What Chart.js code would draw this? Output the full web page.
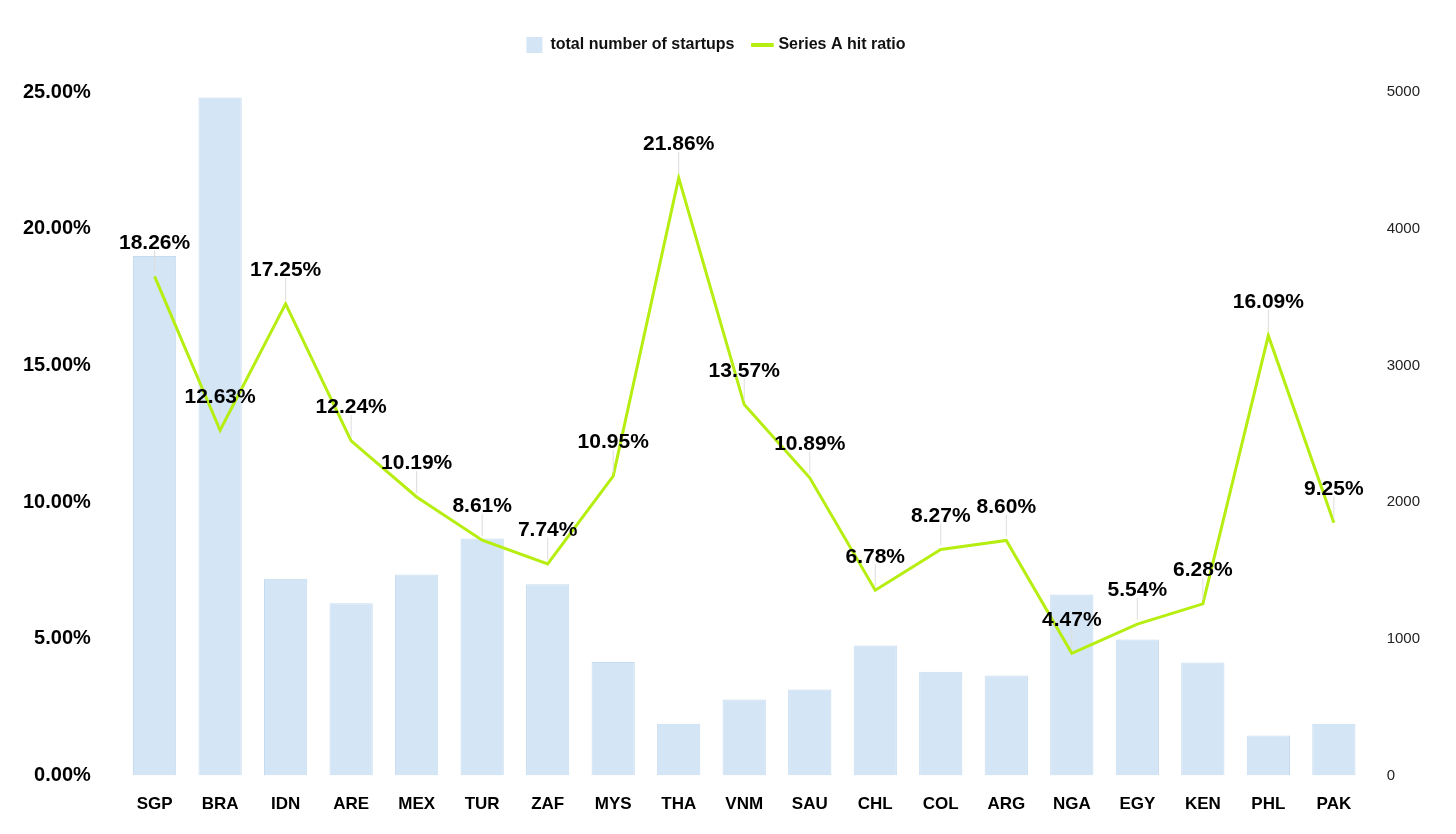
<!DOCTYPE html>
<html>
<head>
<meta charset="utf-8">
<script src="https://cdn.jsdelivr.net/npm/chart.js@4"></script>
<style>
  html, body { margin: 0; background: #fff; }
  #wrap { width: 1456px; height: 834px; }
</style>
</head>
<body>
<div id="wrap"><canvas id="c"></canvas></div>
<script>
const countries = ['SGP', 'BRA', 'IDN', 'ARE', 'MEX', 'TUR', 'ZAF', 'MYS', 'THA', 'VNM', 'SAU', 'CHL', 'COL', 'ARG', 'NGA', 'EGY', 'KEN', 'PHL', 'PAK'];
const startups = [3800, 4960, 1440, 1260, 1470, 1735, 1400, 830, 380, 556, 630, 952, 760, 732, 1325, 996, 828, 293, 380];
const hitRatio = [18.26, 12.63, 17.25, 12.24, 10.19, 8.61, 7.74, 10.95, 21.86, 13.57, 10.89, 6.78, 8.27, 8.60, 4.47, 5.54, 6.28, 16.09, 9.25];

// value labels above the line points, with a faint leader line
const pointLabels = {
    id: 'pointLabels',
    afterDatasetsDraw(chart) {
        let ctx = chart.ctx;
        let meta = chart.getDatasetMeta(1);
        ctx.save();
        meta.data.forEach(function(pt, i) {
            let top = pt.y - 26;
            ctx.strokeStyle = '#dddddd';
            ctx.lineWidth = 1;
            ctx.beginPath();
            ctx.moveTo(pt.x, pt.y - 4);
            ctx.lineTo(pt.x, top);
            ctx.stroke();
            ctx.font = 'bold 21px "Liberation Sans", Arial, sans-serif';
            ctx.fillStyle = '#000';
            ctx.textAlign = 'center';
            ctx.textBaseline = 'bottom';
            ctx.fillText(hitRatio[i].toFixed(2) + '%', pt.x, top + 3);
        });
        ctx.restore();
    }
};

const legendGap = {
    id: 'legendGap',
    beforeInit(chart) {
        const fit = chart.legend.fit;
        chart.legend.fit = function() {
            fit.bind(chart.legend)();
            this.height += 29;
        };
    }
};

new Chart(document.getElementById('c').getContext('2d'), {
    data: {
        labels: countries,
        datasets: [{
            type: 'bar',
            label: 'total number of startups',
            data: startups,
            yAxisID: 'y1',
            backgroundColor: '#d4e5f5',
            borderColor: '#c5dbef',
            borderWidth: 1,
            categoryPercentage: 0.66,
            barPercentage: 1,
            order: 2
        }, {
            type: 'line',
            label: 'Series A hit ratio',
            data: hitRatio,
            yAxisID: 'y',
            borderColor: '#b6ee12',
            backgroundColor: '#b6ee12',
            borderWidth: 3,
            pointRadius: 0,
            tension: 0,
            order: 1
        }]
    },
    options: {
        responsive: true,
        maintainAspectRatio: false,
        animation: false,
        layout: { padding: { left: 0, right: 24, top: 17, bottom: 8 } },
        plugins: {
            legend: {
                position: 'top',
                labels: {
                    usePointStyle: true,
                    font: { size: 16, weight: 'bold', family: '"Liberation Sans", Arial, sans-serif' },
                    color: '#111',
                    padding: 20,
                    generateLabels(chart) {
                        return chart.data.datasets.map(function(ds, i) {
                            return {
                                text: ds.label,
                                fillStyle: ds.backgroundColor,
                                strokeStyle: i === 0 ? '#d4e5f5' : ds.borderColor,
                                lineWidth: i === 0 ? 0 : 4,
                                pointStyle: i === 0 ? 'rect' : 'line',
                                datasetIndex: i,
                                fontColor: '#111'
                            };
                        });
                    }
                }
            },
            tooltip: { enabled: false }
        },
        scales: {
            x: {
                grid: { display: false },
                border: { display: false },
                ticks: { color: '#000', padding: 11, font: { size: 17, weight: 'bold', family: '"Liberation Sans", Arial, sans-serif' } }
            },
            y: {
                position: 'left',
                min: 0,
                max: 25,
                grid: { display: false },
                border: { display: false },
                ticks: {
                    stepSize: 5,
                    color: '#000',
                    padding: 23,
                    font: { size: 20, weight: 'bold', family: '"Liberation Sans", Arial, sans-serif' },
                    callback: v => v.toFixed(2) + '%'
                }
            },
            y1: {
                position: 'right',
                min: 0,
                max: 5000,
                grid: { display: false },
                border: { display: false },
                ticks: {
                    stepSize: 1000,
                    color: '#222',
                    padding: 12,
                    font: { size: 15, family: '"Liberation Sans", Arial, sans-serif' },
                    callback: v => String(v)
                }
            }
        }
    },
    plugins: [pointLabels, legendGap]
});
</script>
</body>
</html>
